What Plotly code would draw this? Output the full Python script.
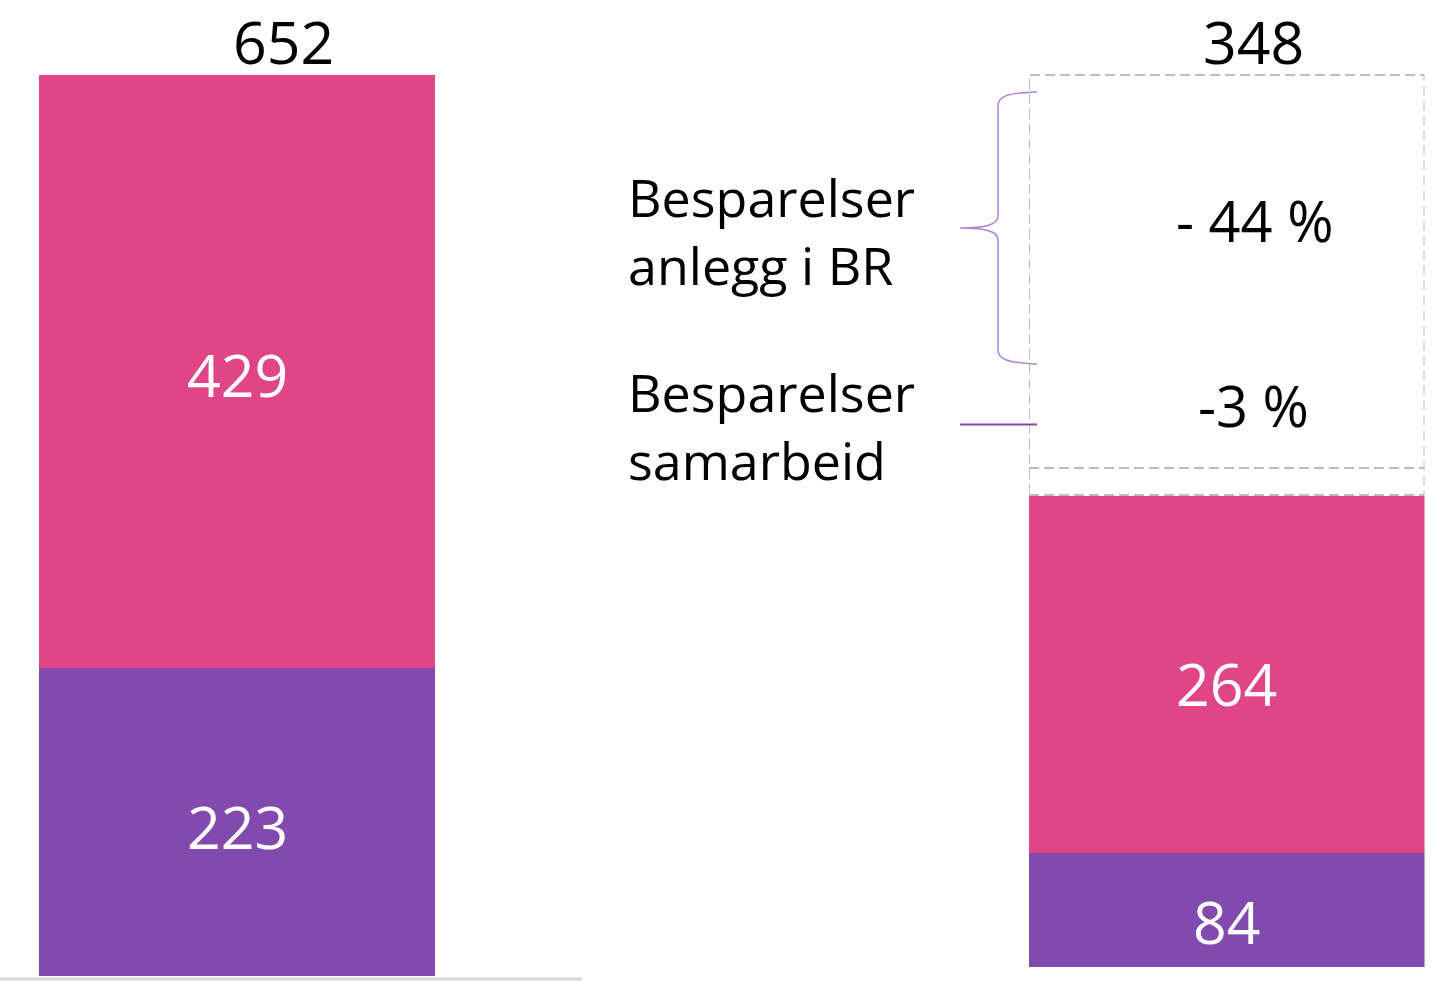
import plotly.graph_objects as go

# ---------------- data ----------------
categories = ["Før", "Etter"]
series_names = ["Samarbeid", "Anlegg i BR"]
purple_values = [223, 84]
pink_values = [429, 264]
savings_labels = ["- 44 %", "-3 %"]
savings_pct = [44, 3]
callout_labels = ["Besparelser<br>anlegg i BR", "Besparelser<br>samarbeid"]

totals = [p + q for p, q in zip(purple_values, pink_values)]

# ---------------- style ----------------
W, H = 1439, 984
PURPLE = "#8249AE"
PINK = "#E04687"
FONT = "Open Sans"
NUM_SIZE = 59
LBL_SIZE = 52
PCT_SIZE = 56


def P(x, y):
    return x / W, 1 - y / H


fig = go.Figure()

axes = [("x", "y"), ("x2", "y2")]
for i, (xa, ya) in enumerate(axes):
    fig.add_trace(go.Bar(x=[categories[i]], y=[purple_values[i]], name=series_names[0],
                         marker=dict(color=PURPLE, line=dict(width=0)),
                         xaxis=xa, yaxis=ya, showlegend=False, hoverinfo="skip"))
    fig.add_trace(go.Bar(x=[categories[i]], y=[pink_values[i]], name=series_names[1],
                         marker=dict(color=PINK, line=dict(width=0)),
                         xaxis=xa, yaxis=ya, showlegend=False, hoverinfo="skip"))

# axis geometry (pixel placement of each bar panel)
k1 = (976 - 75) / totals[0]
y1_range = [-(H - 976) / k1, totals[0] + 75 / k1]
k2 = (966.5 - 495.5) / totals[1]
y2_range = [-(H - 966.5) / k2, totals[1] + 495.5 / k2]

hidden = dict(visible=False, showgrid=False, zeroline=False, fixedrange=True)
fig.update_layout(
    xaxis=dict(domain=[39 / W, 435 / W], range=[-0.5, 0.5], **hidden),
    xaxis2=dict(domain=[1029 / W, 1424.5 / W], range=[-0.5, 0.5], anchor="y2", **hidden),
    yaxis=dict(domain=[0, 1], range=y1_range, anchor="x", **hidden),
    yaxis2=dict(domain=[0, 1], range=y2_range, anchor="x2", **hidden),
)

annotations = []
# in-bar value labels
shifts = [[-4, -3], [-11, -9]]
for i, (xa, ya) in enumerate(axes):
    for j, (base, val) in enumerate([(0, purple_values[i]), (purple_values[i], pink_values[i])]):
        annotations.append(dict(x=categories[i], xref=xa, y=base + val / 2, yref=ya,
                                xanchor="center", yanchor="middle",
                                text=str(val), showarrow=False, yshift=shifts[i][j],
                                font=dict(family=FONT, size=NUM_SIZE, color="white")))

# totals, both placed at the level of the first total
annotations.append(dict(x=categories[0], xref="x", y=totals[0], yref="y",
                        xanchor="center", yanchor="middle",
                        text=str(totals[0]), showarrow=False, xshift=46, yshift=34,
                        font=dict(family=FONT, size=NUM_SIZE, color="black")))
annotations.append(dict(x=categories[1], xref="x2", y=totals[0], yref="y",
                        xanchor="center", yanchor="middle",
                        text=str(totals[1]), showarrow=False, xshift=27, yshift=34,
                        font=dict(family=FONT, size=NUM_SIZE, color="black")))

# savings percentages
for lbl, (px, py) in zip(savings_labels, [(1254, 220), (1253, 405)]):
    x, y = P(px, py)
    annotations.append(dict(x=x, y=y, xref="paper", yref="paper", text=lbl, showarrow=False,
                            xanchor="center", yanchor="middle",
                            font=dict(family=FONT, size=PCT_SIZE, color="black")))

# callout labels
for lbl, (px, py) in zip(callout_labels, [(626, 230), (626, 425)]):
    x, y = P(px, py)
    annotations.append(dict(x=x, y=y, xref="paper", yref="paper", xanchor="left",
                            yanchor="middle", align="left",
                            text=lbl, showarrow=False,
                            font=dict(family=FONT, size=LBL_SIZE, color="black")))

fig.update_layout(annotations=annotations)

shapes = []
# dashed savings box (left scale)
gap_split = totals[1] + savings_pct[1] / 100 * totals[0]
box_style = dict(color="#BDBDBD", width=2, dash="10px,5px")
shapes.append(dict(type="rect", xref="x2", yref="y", x0=-0.5, x1=0.5, y0=totals[1], y1=totals[0],
                   line=box_style, fillcolor="rgba(0,0,0,0)"))
shapes.append(dict(type="line", xref="x2", yref="y", x0=-0.5, x1=0.5, y0=gap_split, y1=gap_split,
                   line=box_style))

# baseline under the left bar
bx0, by = P(0, 979)
bx1, _ = P(582, 979)
shapes.append(dict(type="line", xref="paper", yref="paper", x0=bx0, x1=bx1, y0=by, y1=by,
                   line=dict(color="#D9D9D9", width=3)))

# curly brace
brace_px = [("M", [(1037, 92)]),
            ("C", [(1010, 93), (998, 95), (998, 106)]),
            ("L", [(998, 216)]),
            ("C", [(998, 225), (985, 228), (960, 228)]),
            ("C", [(985, 228), (998, 231), (998, 240)]),
            ("L", [(998, 350)]),
            ("C", [(998, 360), (1010, 363), (1037, 364)])]
path = ""
for cmd, pts in brace_px:
    path += cmd + " " + " ".join("%.5f,%.5f" % P(x, y) for x, y in pts) + " "
shapes.append(dict(type="path", xref="paper", yref="paper", path=path.strip(),
                   line=dict(color="#B08AD6", width=1.6)))

lx0, ly = P(960, 424.5)
lx1, _ = P(1037, 424.5)
shapes.append(dict(type="line", xref="paper", yref="paper", x0=lx0, x1=lx1, y0=ly, y1=ly,
                   line=dict(color=PURPLE, width=2)))

fig.update_layout(shapes=shapes)

fig.update_layout(
    width=W, height=H, margin=dict(l=0, r=0, t=0, b=0),
    barmode="stack", bargap=0,
    paper_bgcolor="white", plot_bgcolor="white",
    showlegend=False,
    font=dict(family=FONT),
)

fig.write_html("out.html", config={"displayModeBar": False},
               post_script="document.body.style.margin='0px';document.body.style.overflow='hidden';")
